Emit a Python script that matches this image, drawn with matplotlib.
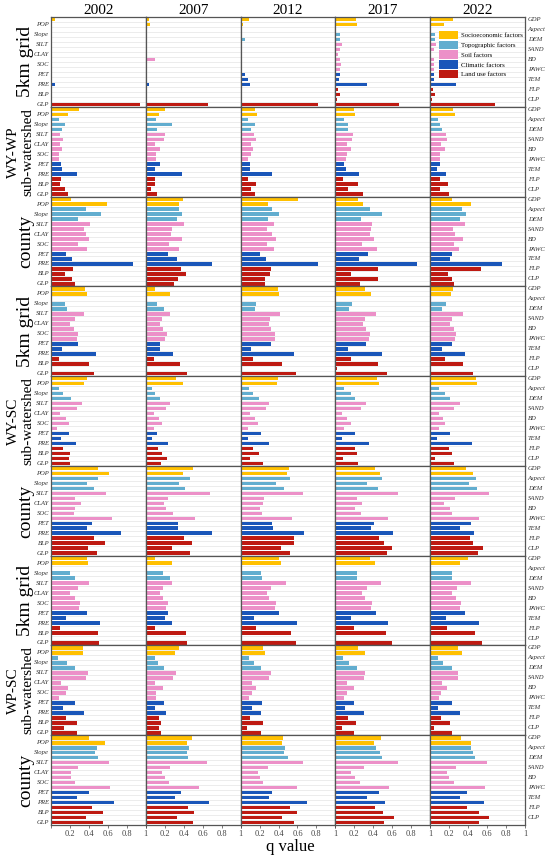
"""
Factor q values (geodetector) for three region pairs at three scales, 2002-2022.
"""
import matplotlib.pyplot as plt
from matplotlib.patches import Patch

plt.rcParams["font.family"] = ["Liberation Serif", "DejaVu Serif"]

YEARS = ["2002", "2007", "2012", "2017", "2022"]
FACTORS = ["GDP", "POP", "Aspect", "Slope", "DEM", "SILT", "SAND", "CLAY", "BD",
           "SOC", "PAWC", "PET", "TEM", "PRE", "FLP", "BLP", "CLP", "GLP"]
FACTOR_GROUP = [0, 0, 1, 1, 1, 2, 2, 2, 2, 2, 2, 3, 3, 3, 4, 4, 4, 4]
GROUP_NAMES = ["Socioeconomic factors", "Topographic factors", "Soil factors",
               "Climatic factors", "Land use factors"]
GROUP_COLORS = ["#FFC000", "#62ADCF", "#EC90C8", "#1A56B9", "#BE1A12"]
ROW_LABELS = ["5km grid", "WY-WP\nsub-watershed", "county",
              "5km grid", "WY-SC\nsub-watershed", "county",
              "5km grid", "WP-SC\nsub-watershed", "county"]

# each row: one list of 18 q values per year
wywp_grid = [
    [0.04, 0.01, 0.005, 0.005, 0.005, 0, 0, 0, 0, 0, 0, 0.01, 0.01, 0.04, 0, 0, 0, 0.94],
    [0.03, 0.045, 0.005, 0.005, 0.005, 0.01, 0.01, 0.005, 0.10, 0.005, 0.005, 0.01, 0.01, 0.035, 0, 0, 0, 0.66],
    [0.09, 0.03, 0.01, 0.02, 0.05, 0.01, 0.01, 0.01, 0.01, 0.01, 0.01, 0.05, 0.08, 0.10, 0.005, 0.01, 0.01, 0.82],
    [0.22, 0.23, 0.005, 0.05, 0.05, 0.07, 0.05, 0.03, 0.045, 0.055, 0.05, 0.05, 0.035, 0.33, 0.03, 0.05, 0.02, 0.67],
    [0.24, 0.15, 0.005, 0.05, 0.05, 0.06, 0.04, 0.01, 0.045, 0.045, 0.045, 0.04, 0.045, 0.27, 0.03, 0.05, 0.02, 0.68],
]
wywp_sub = [
    [0.30, 0.18, 0.08, 0.15, 0.12, 0.10, 0.13, 0.09, 0.12, 0.08, 0.08, 0.11, 0.12, 0.27, 0.11, 0.09, 0.15, 0.18],
    [0.20, 0.14, 0.11, 0.28, 0.12, 0.20, 0.19, 0.095, 0.145, 0.105, 0.105, 0.145, 0.10, 0.38, 0.095, 0.095, 0.055, 0.12],
    [0.155, 0.175, 0.08, 0.15, 0.115, 0.14, 0.165, 0.105, 0.13, 0.11, 0.075, 0.095, 0.095, 0.33, 0.075, 0.16, 0.105, 0.15],
    [0.195, 0.21, 0.09, 0.135, 0.135, 0.19, 0.18, 0.12, 0.16, 0.12, 0.11, 0.09, 0.115, 0.25, 0.08, 0.24, 0.13, 0.29],
    [0.245, 0.26, 0.085, 0.105, 0.12, 0.17, 0.18, 0.11, 0.155, 0.10, 0.10, 0.10, 0.075, 0.17, 0.10, 0.19, 0.10, 0.20],
]
wywp_county = [
    [0.21, 0.59, 0.37, 0.53, 0.28, 0.41, 0.35, 0.365, 0.40, 0.28, 0.385, 0.16, 0.22, 0.87, 0.23, 0.15, 0.225, 0.25],
    [0.395, 0.35, 0.35, 0.38, 0.325, 0.40, 0.28, 0.27, 0.38, 0.24, 0.35, 0.23, 0.33, 0.70, 0.37, 0.42, 0.34, 0.30],
    [0.61, 0.285, 0.33, 0.41, 0.29, 0.355, 0.28, 0.335, 0.37, 0.275, 0.35, 0.21, 0.27, 0.82, 0.32, 0.31, 0.255, 0.255],
    [0.24, 0.295, 0.37, 0.495, 0.275, 0.39, 0.38, 0.37, 0.41, 0.28, 0.44, 0.345, 0.25, 0.86, 0.45, 0.17, 0.445, 0.26],
    [0.235, 0.43, 0.34, 0.38, 0.31, 0.365, 0.24, 0.26, 0.35, 0.255, 0.30, 0.23, 0.21, 0.755, 0.535, 0.185, 0.23, 0.255],
]
wysc_grid = [
    [0.36, 0.385, 0, 0.15, 0.17, 0.35, 0.25, 0.20, 0.24, 0.28, 0.27, 0.29, 0.12, 0.47, 0.08, 0.40, 0.01, 0.455],
    [0.095, 0.26, 0.005, 0.115, 0.19, 0.26, 0.17, 0.15, 0.18, 0.22, 0.20, 0.15, 0.15, 0.29, 0.09, 0.365, 0.015, 0.435],
    [0.39, 0.40, 0.005, 0.165, 0.15, 0.42, 0.315, 0.30, 0.32, 0.365, 0.36, 0.32, 0.11, 0.56, 0.135, 0.44, 0.015, 0.58],
    [0.315, 0.375, 0, 0.18, 0.14, 0.425, 0.31, 0.29, 0.32, 0.365, 0.355, 0.32, 0.135, 0.49, 0.17, 0.45, 0.02, 0.545],
    [0.245, 0.215, 0, 0.165, 0.125, 0.345, 0.225, 0.21, 0.25, 0.275, 0.265, 0.23, 0.125, 0.365, 0.155, 0.345, 0.01, 0.455],
]
wysc_sub = [
    [0.375, 0.35, 0.08, 0.13, 0.21, 0.325, 0.275, 0.095, 0.16, 0.19, 0.065, 0.185, 0.11, 0.26, 0.13, 0.205, 0.19, 0.205],
    [0.32, 0.39, 0.07, 0.10, 0.15, 0.26, 0.215, 0.09, 0.14, 0.175, 0.085, 0.115, 0.07, 0.23, 0.13, 0.17, 0.225, 0.16],
    [0.39, 0.385, 0.085, 0.13, 0.195, 0.305, 0.27, 0.10, 0.15, 0.185, 0.075, 0.22, 0.075, 0.30, 0.13, 0.195, 0.095, 0.24],
    [0.435, 0.465, 0.09, 0.16, 0.205, 0.325, 0.275, 0.075, 0.125, 0.17, 0.09, 0.205, 0.075, 0.35, 0.205, 0.225, 0.08, 0.235],
    [0.485, 0.495, 0.09, 0.155, 0.205, 0.31, 0.25, 0.09, 0.135, 0.16, 0.09, 0.21, 0.07, 0.44, 0.195, 0.23, 0.055, 0.25],
]
wysc_county = [
    [0.50, 0.61, 0.50, 0.375, 0.45, 0.585, 0.25, 0.32, 0.25, 0.24, 0.64, 0.43, 0.375, 0.735, 0.45, 0.565, 0.395, 0.485],
    [0.50, 0.39, 0.47, 0.35, 0.415, 0.675, 0.23, 0.195, 0.21, 0.29, 0.515, 0.335, 0.34, 0.70, 0.405, 0.485, 0.275, 0.465],
    [0.51, 0.485, 0.52, 0.37, 0.46, 0.655, 0.25, 0.235, 0.21, 0.23, 0.545, 0.335, 0.34, 0.665, 0.56, 0.56, 0.43, 0.525],
    [0.42, 0.47, 0.495, 0.335, 0.445, 0.66, 0.225, 0.285, 0.205, 0.265, 0.56, 0.405, 0.375, 0.61, 0.465, 0.51, 0.595, 0.545],
    [0.38, 0.45, 0.48, 0.405, 0.495, 0.62, 0.265, 0.15, 0.21, 0.23, 0.51, 0.43, 0.315, 0.46, 0.425, 0.45, 0.56, 0.50],
]
wpsc_grid = [
    [0.38, 0.39, 0, 0.20, 0.255, 0.40, 0.28, 0.205, 0.25, 0.31, 0.30, 0.38, 0.16, 0.515, 0.09, 0.495, 0.005, 0.51],
    [0.10, 0.275, 0, 0.18, 0.255, 0.28, 0.18, 0.15, 0.18, 0.23, 0.215, 0.23, 0.205, 0.28, 0.095, 0.42, 0.005, 0.44],
    [0.41, 0.43, 0, 0.22, 0.225, 0.475, 0.325, 0.275, 0.305, 0.37, 0.365, 0.41, 0.14, 0.59, 0.165, 0.53, 0.005, 0.585],
    [0.37, 0.42, 0, 0.23, 0.23, 0.485, 0.335, 0.28, 0.315, 0.385, 0.375, 0.43, 0.17, 0.55, 0.195, 0.535, 0.005, 0.60],
    [0.395, 0.31, 0, 0.23, 0.225, 0.43, 0.28, 0.235, 0.27, 0.32, 0.31, 0.37, 0.165, 0.51, 0.18, 0.475, 0.005, 0.545],
]
wpsc_sub = [
    [0.34, 0.34, 0.075, 0.17, 0.25, 0.395, 0.37, 0.11, 0.18, 0.16, 0.08, 0.255, 0.125, 0.345, 0.155, 0.27, 0.135, 0.27],
    [0.355, 0.31, 0.10, 0.13, 0.195, 0.315, 0.29, 0.095, 0.185, 0.105, 0.105, 0.19, 0.10, 0.21, 0.135, 0.16, 0.135, 0.16],
    [0.24, 0.26, 0.085, 0.14, 0.22, 0.32, 0.30, 0.125, 0.165, 0.12, 0.09, 0.23, 0.12, 0.215, 0.10, 0.235, 0.065, 0.215],
    [0.24, 0.31, 0.08, 0.14, 0.225, 0.315, 0.30, 0.12, 0.195, 0.125, 0.09, 0.195, 0.10, 0.30, 0.135, 0.215, 0.065, 0.195],
    [0.295, 0.335, 0.08, 0.135, 0.23, 0.295, 0.295, 0.125, 0.18, 0.115, 0.09, 0.225, 0.085, 0.31, 0.11, 0.205, 0.045, 0.225],
]
wpsc_county = [
    [0.40, 0.575, 0.49, 0.465, 0.50, 0.615, 0.28, 0.215, 0.215, 0.25, 0.625, 0.405, 0.27, 0.66, 0.43, 0.545, 0.37, 0.545],
    [0.49, 0.43, 0.46, 0.43, 0.45, 0.65, 0.255, 0.17, 0.20, 0.24, 0.56, 0.375, 0.31, 0.665, 0.445, 0.51, 0.325, 0.50],
    [0.45, 0.435, 0.47, 0.46, 0.50, 0.655, 0.285, 0.185, 0.205, 0.24, 0.59, 0.335, 0.30, 0.70, 0.525, 0.60, 0.435, 0.565],
    [0.48, 0.41, 0.43, 0.475, 0.49, 0.665, 0.30, 0.165, 0.205, 0.255, 0.57, 0.465, 0.335, 0.52, 0.42, 0.50, 0.615, 0.515],
    [0.33, 0.43, 0.43, 0.45, 0.475, 0.595, 0.275, 0.18, 0.195, 0.25, 0.58, 0.39, 0.31, 0.565, 0.39, 0.515, 0.62, 0.51],
]
ROWS = [wywp_grid, wywp_sub, wywp_county,
        wysc_grid, wysc_sub, wysc_county,
        wpsc_grid, wpsc_sub, wpsc_county]


def main() -> None:
    fig, axes = plt.subplots(9, 5, figsize=(5.5, 8.56), dpi=100, sharex=True, sharey=True)
    fig.subplots_adjust(left=0.0927, right=0.9545, top=0.980, bottom=0.0362,
                        wspace=0, hspace=0)

    colors = [GROUP_COLORS[g] for g in FACTOR_GROUP]
    ypos = list(range(len(FACTORS)))

    for r, row in enumerate(ROWS):
        for c, vals in enumerate(row):
            ax = axes[r, c]
            ax.barh(ypos, vals, height=0.72, color=colors, zorder=2)
            ax.set_xlim(0, 1)
            ax.set_ylim(len(FACTORS) - 0.5, -0.5)
            ax.set_yticks([i + 0.5 for i in ypos[:-1]], minor=True)
            ax.grid(True, which="minor", axis="y", color="#e4e4e4", linewidth=0.5, zorder=0)
            ax.set_yticks([])
            for s in ax.spines.values():
                s.set_color("#555555")
                s.set_linewidth(0.9)
            ax.tick_params(axis="x", which="both", length=0)
            ax.tick_params(axis="y", which="minor", length=0)

            if c == 0:
                for i in range(1, len(FACTORS), 2):
                    ax.text(-0.02, i, FACTORS[i], transform=ax.get_yaxis_transform(),
                            ha="right", va="center", fontsize=4.8, style="italic",
                            color="#333333")
            if c == 4:
                for i in range(0, len(FACTORS), 2):
                    ax.text(1.03, i, FACTORS[i], transform=ax.get_yaxis_transform(),
                            ha="left", va="center", fontsize=4.8, style="italic",
                            color="#333333")
            if r == 0:
                ax.set_title(YEARS[c], fontsize=11, pad=1)

        # row labels
        y_mid = 1 - (17 + 89.8 * (r + 0.5)) / 856
        label = ROW_LABELS[r]
        if "\n" in label:
            fig.text(0.038, y_mid, label, rotation=90, ha="center", va="center",
                     fontsize=11, linespacing=1.15, multialignment="center")
        else:
            fig.text(0.046, y_mid, label, rotation=90, ha="center", va="center",
                     fontsize=14)

    # bottom axis ticks
    for c in range(5):
        ax = axes[8, c]
        ax.set_xticks([0, 0.2, 0.4, 0.6, 0.8, 1.0])
        labels = ["0" if c == 0 else "", "0.2", "0.4", "0.6", "0.8", "1"]
        ax.set_xticklabels(labels)
        ax.tick_params(axis="x", length=2, width=0.5, labelsize=6, colors="#444444", pad=1.5)

    fig.text(0.527, 0.001, "q value", ha="center", va="bottom", fontsize=12)

    handles = [Patch(facecolor=col, edgecolor="none") for col in GROUP_COLORS]
    axes[0, 4].legend(handles, GROUP_NAMES, loc="upper left", bbox_to_anchor=(0.04, 0.9),
                      frameon=False, fontsize=4.9, handlelength=2.9, handleheight=1.5,
                      labelspacing=0.22, handletextpad=0.35, borderpad=0.2)

    fig.savefig("out.png", dpi=100)
    plt.close(fig)


if __name__ == "__main__":
    main()
